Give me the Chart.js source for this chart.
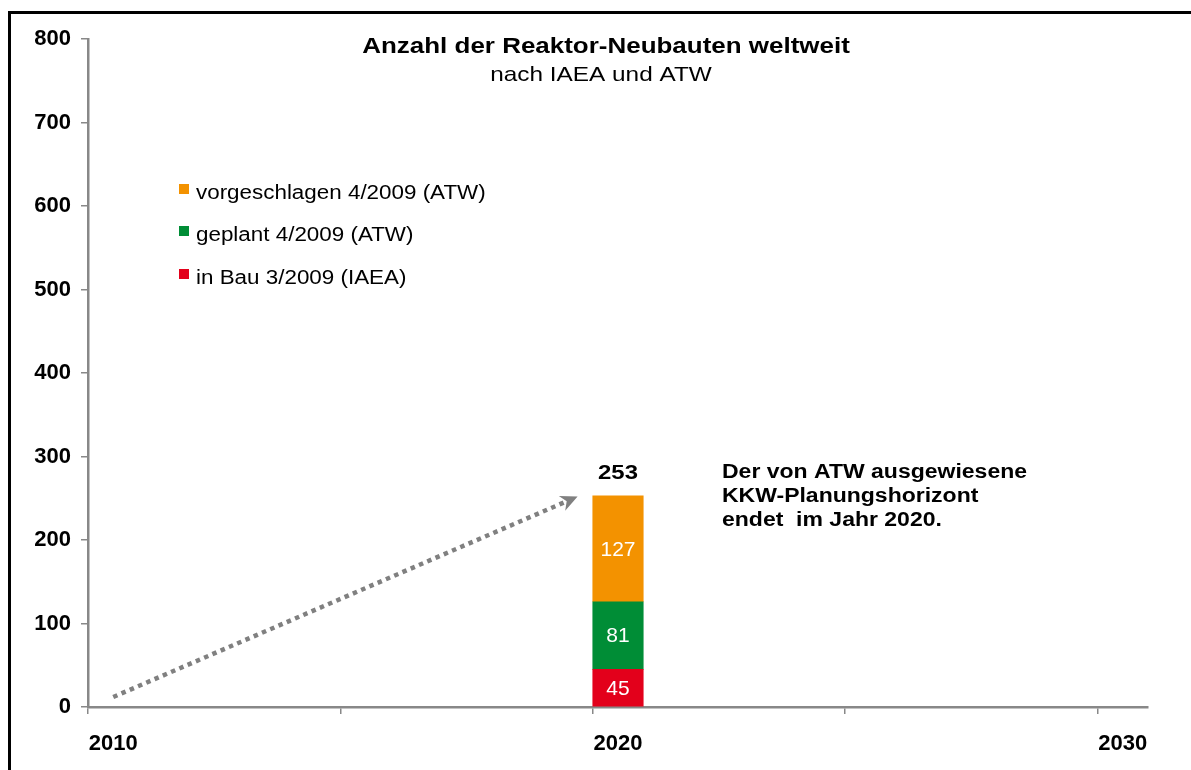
<!DOCTYPE html>
<html>
<head>
<meta charset="utf-8">
<script src="https://cdn.jsdelivr.net/npm/chart.js@4/dist/chart.umd.min.js"></script>
<style>
  html, body { margin: 0; padding: 0; background: #ffffff; }
  #wrap { position: relative; width: 1191px; height: 770px; }
</style>
</head>
<body>
<div id="wrap"><canvas id="c"></canvas></div>
<script>
// ---- data ----
const years = ['2010','2011','2012','2013','2014','2015','2016','2017','2018','2019','2020',
               '2021','2022','2023','2024','2025','2026','2027','2028','2029','2030'];
const labeledYears = ['2010', '2020', '2030'];
const tickMarkYears = ['2010', '2015', '2020', '2025', '2030'];
const yTicks = [0, 100, 200, 300, 400, 500, 600, 700, 800];

const barYears = ['2020'];
const seriesNames = ['in Bau 3/2009 (IAEA)', 'geplant 4/2009 (ATW)', 'vorgeschlagen 4/2009 (ATW)'];
const inBau = [45];
const geplant = [81];
const vorgeschlagen = [127];
const seriesColors = ['#E3001B', '#008D36', '#F39200'];

const arrowYears = [2010, 2019.2];
const arrowValues = [12, 252];

const titleText = 'Anzahl der Reaktor-Neubauten weltweit';
const subtitleText = 'nach IAEA und ATW';
const noteLines = ['Der von ATW ausgewiesene', 'KKW-Planungshorizont', 'endet  im Jahr 2020.'];

// ---- chart ----
const FONT = '"Liberation Sans", Arial, Helvetica, sans-serif';
const AXIS = '#888888';

function toPoints(vals) { return vals.map((v, i) => ({ x: barYears[i], y: v })); }
const seriesValues = [inBau, geplant, vorgeschlagen];

const datasets = seriesValues.map((vals, i) => ({
  label: seriesNames[i],
  data: toPoints(vals),
  backgroundColor: seriesColors[i],
  borderWidth: 0,
  barPercentage: 1.0,
  categoryPercentage: 1.0
}));

function stretchedText(ctx, text, x, y, sx) {
  ctx.save();
  ctx.translate(x, y);
  ctx.scale(sx, 1);
  ctx.fillText(text, 0, 0);
  ctx.restore();
}

const overlay = {
  id: 'overlay',
  afterDraw(chart) {
    const ctx = chart.ctx;
    const xs = chart.scales.x, ys = chart.scales.y;
    ctx.save();

    // outer frame
    ctx.strokeStyle = '#000';
    ctx.lineWidth = 3;
    ctx.strokeRect(9.5, 12.5, 1400, 1000);

    // title + subtitle
    ctx.fillStyle = '#000';
    ctx.textAlign = 'center';
    ctx.textBaseline = 'alphabetic';
    ctx.font = 'bold 22px ' + FONT;
    stretchedText(ctx, titleText, 606, 53, 1.18);
    ctx.font = '21px ' + FONT;
    stretchedText(ctx, subtitleText, 601, 81, 1.16);

    // legend (reverse order)
    ctx.textAlign = 'left';
    ctx.font = '20px ' + FONT;
    const legendBase = [199, 241, 284];
    for (let k = 0; k < seriesNames.length; k++) {
      const i = seriesNames.length - 1 - k;
      const by = legendBase[k];
      ctx.fillStyle = seriesColors[i];
      ctx.fillRect(179, by - 15, 10, 10);
      ctx.fillStyle = '#000';
      stretchedText(ctx, seriesNames[i], 196, by, 1.12);
    }

    // data labels inside segments
    ctx.textAlign = 'center';
    ctx.textBaseline = 'middle';
    ctx.font = '21px ' + FONT;
    ctx.fillStyle = '#fff';
    let topEl = null;
    chart.data.datasets.forEach((ds, di) => {
      const meta = chart.getDatasetMeta(di);
      meta.data.forEach((el, j) => {
        const v = ds.data[j].y;
        ctx.fillText(String(v), el.x, (el.y + el.base) / 2 + 1);
        topEl = el;
      });
    });
    // total above bar
    const total = inBau[0] + geplant[0] + vorgeschlagen[0];
    if (topEl) {
      ctx.fillStyle = '#000';
      ctx.font = 'bold 21px ' + FONT;
      stretchedText(ctx, String(total), topEl.x, topEl.y - 23, 1.14);
    }

    // note text
    ctx.textAlign = 'left';
    ctx.textBaseline = 'alphabetic';
    ctx.font = 'bold 20px ' + FONT;
    ctx.fillStyle = '#000';
    noteLines.forEach((t, i) => stretchedText(ctx, t, 722, 478 + i * 24, 1.15));

    // dotted arrow
    const x0 = xs.getPixelForValue(arrowYears[0] - Number(years[0]));
    const y0 = ys.getPixelForValue(arrowValues[0]);
    const x1 = xs.getPixelForValue(arrowYears[1] - Number(years[0]));
    const y1 = ys.getPixelForValue(arrowValues[1]);
    const ang = Math.atan2(y1 - y0, x1 - x0);
    const headLen = 17, headW = 8;
    const bx = x1 - headLen * Math.cos(ang), by = y1 - headLen * Math.sin(ang);
    ctx.strokeStyle = '#808080';
    ctx.fillStyle = '#808080';
    ctx.lineWidth = 4.5;
    ctx.setLineDash([4.5, 4.5]);
    ctx.lineCap = 'butt';
    ctx.beginPath();
    ctx.moveTo(x0, y0);
    ctx.lineTo(x1 - headLen * 0.75 * Math.cos(ang), y1 - headLen * 0.75 * Math.sin(ang));
    ctx.stroke();
    ctx.setLineDash([]);
    ctx.beginPath();
    ctx.moveTo(x1, y1);
    ctx.lineTo(bx + headW * Math.sin(ang), by - headW * Math.cos(ang));
    ctx.lineTo(x1 - (headLen * 0.7) * Math.cos(ang), y1 - (headLen * 0.7) * Math.sin(ang));
    ctx.lineTo(bx - headW * Math.sin(ang), by + headW * Math.cos(ang));
    ctx.closePath();
    ctx.fill();

    ctx.restore();
  }
};

new Chart(document.getElementById('c'), {
  type: 'bar',
  data: { labels: years, datasets: datasets },
  options: {
    responsive: true,
    maintainAspectRatio: false,
    animation: false,
    layout: { padding: { top: 39, right: 43, bottom: 0, left: 0 } },
    plugins: { legend: { display: false }, tooltip: { enabled: false }, title: { display: false } },
    scales: {
      x: {
        stacked: true,
        offset: true,
        grid: {
          offset: true,
          drawOnChartArea: false,
          drawTicks: true,
          tickLength: 7,
          lineWidth: 1.5,
          color: (c) => (c.index !== undefined && tickMarkYears.includes(years[c.index])) ? AXIS : 'rgba(0,0,0,0)'
        },
        border: { color: AXIS, width: 2.5 },
        ticks: {
          autoSkip: false,
          maxRotation: 0,
          padding: 17,
          color: '#000',
          font: { family: FONT, size: 22, weight: 'bold' },
          callback: function (v, i) { const l = years[i]; return labeledYears.includes(l) ? l : ''; }
        },
        afterFit: (s) => { s.height = 63; }
      },
      y: {
        stacked: true,
        min: yTicks[0],
        max: yTicks[yTicks.length - 1],
        afterBuildTicks: (s) => { s.ticks = yTicks.map(v => ({ value: v })); },
        grid: { drawOnChartArea: false, drawTicks: true, tickLength: 7, color: AXIS, lineWidth: 1.5 },
        border: { color: AXIS, width: 2.5 },
        ticks: {
          padding: 10,
          color: '#000',
          font: { family: FONT, size: 22, weight: 'bold' }
        },
        afterFit: (s) => { s.width = 88; }
      }
    }
  },
  plugins: [overlay]
});
</script>
</body>
</html>
